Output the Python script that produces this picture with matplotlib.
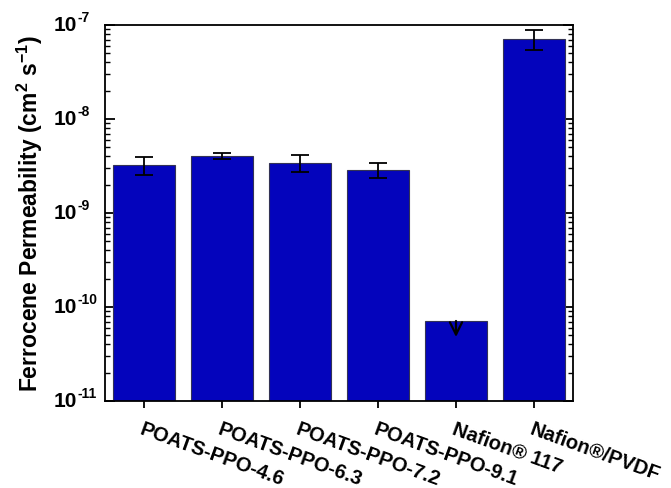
import matplotlib
matplotlib.use("Agg")
import matplotlib.pyplot as plt
import numpy as np
from matplotlib.ticker import LogLocator, NullFormatter, FixedLocator
from matplotlib.transforms import offset_copy

plt.rcParams['font.family'] = ['Liberation Sans', 'DejaVu Sans']
plt.rcParams['mathtext.fontset'] = 'custom'
plt.rcParams['mathtext.bf'] = 'Liberation Sans:bold'
plt.rcParams['mathtext.rm'] = 'Liberation Sans:bold'
plt.rcParams['mathtext.default'] = 'bf'

categories = ["POATS-PPO-4.6", "POATS-PPO-6.3", "POATS-PPO-7.2", "POATS-PPO-9.1",
              "Nafion\u00ae 117", "Nafion\u00ae/PVDF"]
values = [3.24e-9, 4.03e-9, 3.40e-9, 2.86e-9, 7.1e-11, 7.1e-8]
err_upper = [3.94e-9, 4.35e-9, 4.14e-9, 3.40e-9, None, 8.85e-8]
err_lower = [2.53e-9, 3.75e-9, 2.73e-9, 2.35e-9, None, 5.4e-8]
ytick_exponents = [-11, -10, -9, -8, -7]

fig = plt.figure(figsize=(6.71, 4.89), dpi=100)
ax = fig.add_axes([105/671, 1-402/489, (573-105)/671, (402-26)/489])

x = np.arange(len(categories))
ax.bar(x, values, width=0.8, color='#0404BC', edgecolor='#333355', linewidth=0.8,
       zorder=2)
ax.set_yscale('log')
ax.set_ylim(1e-11, 1e-7)
ax.set_xlim(-0.5, 5.5)

for i, (v, hi, lo) in enumerate(zip(values, err_upper, err_lower)):
    if hi is None:
        ax.annotate('', xy=(i, v / 1.48), xytext=(i, v),
                    arrowprops=dict(arrowstyle='->', color='black', lw=1.6,
                                    mutation_scale=22, shrinkA=0, shrinkB=0),
                    zorder=3)
    else:
        ax.errorbar(i, v, yerr=[[v - lo], [hi - v]], fmt='none', ecolor='black',
                    elinewidth=1.3, capsize=6.5, capthick=1.3, zorder=3)

ax.set_xticks(x)
ax.set_xticklabels(categories, rotation=-20, ha='left', va='top',
                   rotation_mode='anchor', fontsize=14.5, fontweight='bold')
ax.tick_params(axis='x', direction='out', length=5, width=1.3, pad=8)

ax.yaxis.set_major_locator(FixedLocator([10.0 ** e for e in ytick_exponents]))
ax.yaxis.set_minor_locator(LogLocator(base=10, subs=np.arange(2, 10), numticks=20))
ax.yaxis.set_major_formatter(NullFormatter())
ax.yaxis.set_minor_formatter(NullFormatter())
ax.tick_params(axis='y', which='major', direction='in', length=7, width=1.3, right=True)
ax.tick_params(axis='y', which='minor', direction='in', length=3.5, width=1.0, right=True)

# y tick labels drawn as base + raised exponent
trans = ax.get_yaxis_transform()
for e in ytick_exponents:
    t_base = offset_copy(trans, fig=fig, x=-20, y=0, units='points')
    ax.text(0, 10.0 ** e, '10', transform=t_base, ha='right', va='center',
            fontsize=15, fontweight='bold', clip_on=False)
    t_exp = offset_copy(trans, fig=fig, x=-20, y=1, units='points')
    ax.text(0, 10.0 ** e, '-%d' % (-e), transform=t_exp, ha='left', va='bottom',
            fontsize=10, fontweight='bold', clip_on=False)

for s in ax.spines.values():
    s.set_linewidth(1.3)

fig.text(30/671, 1 - 214/489, 'Ferrocene Permeability (cm$^{2}$ s$^{-1}$)',
         rotation=90, ha='center', va='center', fontsize=16.5, fontweight='bold')

fig.savefig('out.png', dpi=100)
